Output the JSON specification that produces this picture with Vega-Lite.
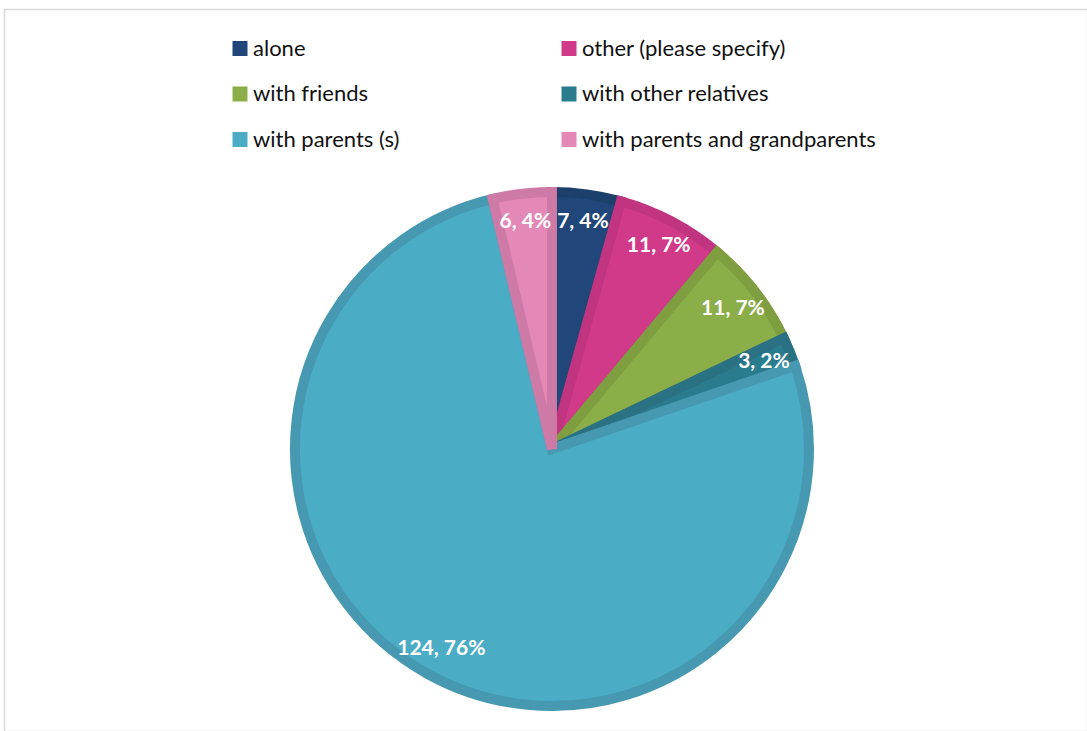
{
  "$schema": "https://vega.github.io/schema/vega-lite/v6.json",
  "width": 1083,
  "height": 722,
  "autosize": {"type": "none"},
  "padding": {"left": 4.5, "top": 9.5, "right": 0, "bottom": 0},
  "background": "white",
  "config": {"view": {"stroke": "#d9d9d9", "strokeWidth": 1.5}},
  "data": {
    "values": [
      {"category": "alone", "count": 7, "label": "7, 4%"},
      {"category": "other (please specify)", "count": 11, "label": "11, 7%"},
      {"category": "with friends", "count": 11, "label": "11, 7%"},
      {"category": "with other relatives", "count": 3, "label": "3, 2%"},
      {"category": "with parents (s)", "count": 124, "label": "124, 76%"},
      {"category": "with parents and grandparents", "count": 6, "label": "6, 4%"}
    ]
  },
  "encoding": {
    "theta": {"field": "count", "type": "quantitative", "stack": true},
    "order": {"field": "category", "sort": "ascending"},
    "detail": {"field": "category"},
    "x": {"datum": 0.5055, "type": "quantitative", "scale": {"domain": [0, 1]}, "axis": null},
    "y": {"datum": 0.3913, "type": "quantitative", "scale": {"domain": [0, 1]}, "axis": null}
  },
  "layer": [
    {
      "mark": {"type": "arc", "radius": 257, "strokeWidth": 10, "strokeJoin": "miter"},
      "encoding": {
        "color": {
          "field": "category",
          "type": "nominal",
          "scale": {
            "domain": ["alone", "with friends", "with parents (s)", "other (please specify)", "with other relatives", "with parents and grandparents"],
            "range": ["#21477A", "#8CAE48", "#4BACC6", "#D13A88", "#2B7B8E", "#E388B7"]
          },
          "legend": {
            "title": null,
            "orient": "none",
            "legendX": 224.5,
            "legendY": 28,
            "columns": 2,
            "symbolType": "square",
            "symbolSize": 225,
            "symbolStrokeWidth": 0,
            "labelFont": "Lato",
            "labelFontSize": 22,
            "labelColor": "#111111",
            "labelOffset": 2,
            "labelLimit": 400,
            "rowPadding": 23.5,
            "columnPadding": 158,
            "padding": 0
          }
        },
        "stroke": {
          "field": "category",
          "type": "nominal",
          "scale": {
            "domain": ["alone", "with friends", "with parents (s)", "other (please specify)", "with other relatives", "with parents and grandparents"],
            "range": ["#1D3F6B", "#7E9E40", "#4699B1", "#C13580", "#2A7183", "#CD7AA6"]
          },
          "legend": null
        }
      }
    },
    {
      "mark": {"type": "text", "radius": 229, "font": "Lato", "fontWeight": "bold", "fontSize": 21, "fill": "white"},
      "encoding": {"text": {"field": "label", "type": "nominal"}}
    }
  ]
}
